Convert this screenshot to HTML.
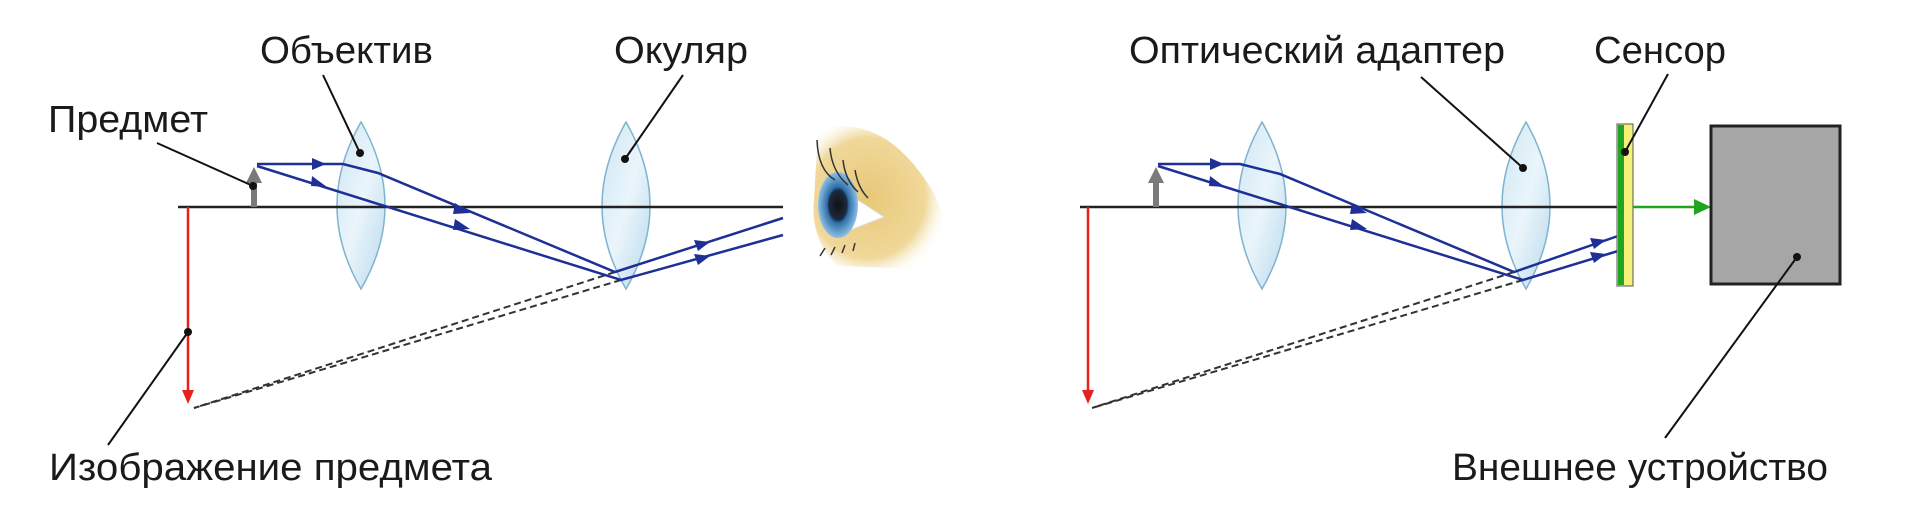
<!DOCTYPE html>
<html><head><meta charset="utf-8"><style>
html,body{margin:0;padding:0;background:#fff;}
svg{display:block;}
text{font-family:"Liberation Sans",sans-serif;font-size:38px;fill:#1a1a1a;}
</style></head><body>
<svg width="1920" height="523" viewBox="0 0 1920 523" xmlns="http://www.w3.org/2000/svg">
<defs>
<linearGradient id="lg" x1="0" y1="0" x2="1" y2="1">
<stop offset="0" stop-color="#cfe6f3"/><stop offset="0.5" stop-color="#eaf5fb"/><stop offset="1" stop-color="#b9d9ec"/>
</linearGradient>
<radialGradient id="skin" cx="0.4" cy="0.5" r="0.6">
<stop offset="0" stop-color="#e8c878"/><stop offset="0.7" stop-color="#f0d89a"/><stop offset="1" stop-color="#fff" stop-opacity="0"/>
</radialGradient>
<radialGradient id="iris" cx="0.5" cy="0.5" r="0.5">
<stop offset="0" stop-color="#111"/><stop offset="0.45" stop-color="#1a2a40"/><stop offset="0.55" stop-color="#2f6fa8"/><stop offset="1" stop-color="#8ec0e6"/>
</radialGradient>
</defs>

<!-- ============ LEFT ============ -->
<path d="M361,122 Q409,206 361,289 Q313,206 361,122 Z" fill="url(#lg)" stroke="#7fb3cf" stroke-width="1.5"/>
<path d="M626,122 Q674,206 626,289 Q578,206 626,122 Z" fill="url(#lg)" stroke="#7fb3cf" stroke-width="1.5"/>
<line x1="178" y1="207" x2="783" y2="207" stroke="#222" stroke-width="2.5"/>
<line x1="188" y1="207" x2="188" y2="392" stroke="#e8201c" stroke-width="2.5"/>
<path d="M182,390 L188,404 L194,390 Z" fill="#e8201c"/>
<rect x="251" y="180" width="6" height="27" fill="#7a7a7a"/>
<path d="M246,183 L254,167 L262,183 Z" fill="#7a7a7a"/>
<line x1="615" y1="272" x2="194" y2="408" stroke="#333" stroke-width="2" stroke-dasharray="7,4"/>
<line x1="621" y1="280" x2="194" y2="408" stroke="#333" stroke-width="2" stroke-dasharray="7,4"/>
<g fill="none" stroke="#1e2f96" stroke-width="2.5">
<polyline points="257,164 343,164 378,173 615,272 783,218"/>
<polyline points="257,166 621,280 783,235"/>
</g>
<g fill="#1e2f96">
<path d="M312,158 L326,164 L312,170 Z"/>
<path d="M312,176 L327,187 L311,186 Z"/>
<path d="M455,203 L470,213 L453,214 Z"/>
<path d="M455,219 L470,229 L453,230 Z"/>
<path d="M694,240 L710,242 L698,251 Z"/>
<path d="M694,254 L710,256 L698,265 Z"/>
</g>
<!-- eye -->
<path d="M818,130 Q885,110 935,195 Q955,240 948,270 Q890,268 838,266 Q810,240 814,200 Z" fill="url(#skin)"/>
<path d="M830,182 L884,217 L835,236 Z" fill="#fff" stroke="#ddd"/>
<ellipse cx="838" cy="205" rx="20" ry="33" fill="url(#iris)"/>
<g stroke="#333" stroke-width="1.5" fill="none">
<path d="M817,140 Q818,170 835,180"/><path d="M830,148 Q832,172 848,185"/><path d="M843,160 Q845,180 858,192"/><path d="M855,170 Q858,188 868,198"/>
<path d="M825,248 L820,256"/><path d="M835,247 L831,255"/><path d="M845,245 L842,253"/><path d="M855,243 L853,251"/>
</g>
<g stroke="#111" stroke-width="2" fill="none">
<line x1="323" y1="75" x2="360" y2="153"/>
<line x1="683" y1="75" x2="625" y2="159"/>
<line x1="157" y1="143" x2="253" y2="186"/>
<line x1="108" y1="445" x2="188" y2="332"/>
</g>
<g fill="#111"><circle cx="360" cy="153" r="4"/><circle cx="625" cy="159" r="4"/><circle cx="253" cy="186" r="4"/><circle cx="188" cy="332" r="4"/></g>
<text x="260" y="63" textLength="173" lengthAdjust="spacingAndGlyphs">Объектив</text>
<text x="614" y="63" textLength="134" lengthAdjust="spacingAndGlyphs">Окуляр</text>
<text x="48" y="132" textLength="160" lengthAdjust="spacingAndGlyphs">Предмет</text>
<text x="49" y="480" textLength="443" lengthAdjust="spacingAndGlyphs">Изображение предмета</text>

<!-- ============ RIGHT ============ -->
<path d="M1262,122 Q1310,206 1262,289 Q1214,206 1262,122 Z" fill="url(#lg)" stroke="#7fb3cf" stroke-width="1.5"/>
<path d="M1526,122 Q1574,206 1526,289 Q1478,206 1526,122 Z" fill="url(#lg)" stroke="#7fb3cf" stroke-width="1.5"/>
<line x1="1080" y1="207" x2="1620" y2="207" stroke="#222" stroke-width="2.5"/>
<line x1="1088" y1="207" x2="1088" y2="392" stroke="#e8201c" stroke-width="2.5"/>
<path d="M1082,390 L1088,404 L1094,390 Z" fill="#e8201c"/>
<rect x="1153" y="180" width="6" height="27" fill="#7a7a7a"/>
<path d="M1148,183 L1156,167 L1164,183 Z" fill="#7a7a7a"/>
<line x1="1514" y1="272" x2="1092" y2="408" stroke="#333" stroke-width="2" stroke-dasharray="7,4"/>
<line x1="1523" y1="280" x2="1092" y2="408" stroke="#333" stroke-width="2" stroke-dasharray="7,4"/>
<g fill="none" stroke="#1e2f96" stroke-width="2.5">
<polyline points="1158,164 1240,164 1280,174 1514,272 1618,236"/>
<polyline points="1158,166 1523,280 1618,251"/>
</g>
<g fill="#1e2f96">
<path d="M1210,158 L1224,164 L1210,170 Z"/>
<path d="M1210,176 L1225,187 L1209,186 Z"/>
<path d="M1352,203 L1367,213 L1350,214 Z"/>
<path d="M1352,219 L1367,229 L1350,230 Z"/>
<path d="M1590,238 L1606,240 L1594,249 Z"/>
<path d="M1590,252 L1606,254 L1594,263 Z"/>
</g>
<rect x="1617" y="124" width="16" height="162" fill="#f5f07a" stroke="#555" stroke-width="1"/>
<rect x="1618" y="125" width="6" height="160" fill="#1fa51f"/>
<line x1="1633" y1="207" x2="1698" y2="207" stroke="#1fa51f" stroke-width="2.5"/>
<path d="M1694,199 L1711,207 L1694,215 Z" fill="#1fa51f"/>
<rect x="1711" y="126" width="129" height="158" fill="#a6a6a6" stroke="#222" stroke-width="3"/>
<g stroke="#111" stroke-width="2" fill="none">
<line x1="1421" y1="77" x2="1523" y2="168"/>
<line x1="1668" y1="74" x2="1625" y2="152"/>
<line x1="1665" y1="438" x2="1797" y2="257"/>
</g>
<g fill="#111"><circle cx="1523" cy="168" r="4"/><circle cx="1625" cy="152" r="4"/><circle cx="1797" cy="257" r="4"/></g>
<text x="1129" y="63" textLength="376" lengthAdjust="spacingAndGlyphs">Оптический адаптер</text>
<text x="1594" y="63" textLength="132" lengthAdjust="spacingAndGlyphs">Сенсор</text>
<text x="1452" y="480" textLength="376" lengthAdjust="spacingAndGlyphs">Внешнее устройство</text>
</svg>
</body></html>
